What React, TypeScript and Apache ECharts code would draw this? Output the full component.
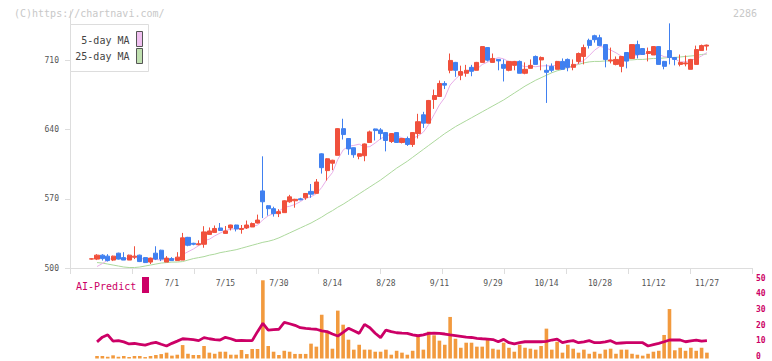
import React, { useEffect, useRef } from "react";
import * as echarts from "echarts";

const MONO = '"DejaVu Sans Mono", monospace';

const dates = [
  "6/10", "6/11", "6/12", "6/13", "6/16", "6/17", "6/18", "6/19", "6/20", "6/23",
  "6/24", "6/25", "6/26", "6/27", "6/30",
  "7/1", "7/2", "7/3", "7/4", "7/7", "7/8", "7/9", "7/10", "7/11", "7/14",
  "7/15", "7/16", "7/17", "7/18", "7/22", "7/23", "7/24", "7/25", "7/28", "7/29",
  "7/30", "7/31",
  "8/1", "8/4", "8/5", "8/6", "8/7", "8/8", "8/12", "8/13", "8/14", "8/15",
  "8/18", "8/19", "8/20", "8/21", "8/22", "8/25", "8/26", "8/27", "8/28", "8/29",
  "9/1", "9/2", "9/3", "9/4", "9/5", "9/8", "9/9", "9/10", "9/11", "9/12",
  "9/16", "9/17", "9/18", "9/19", "9/22", "9/24", "9/25", "9/26", "9/29", "9/30",
  "10/1", "10/2", "10/3", "10/6", "10/7", "10/8", "10/9", "10/10", "10/14", "10/15",
  "10/16", "10/17", "10/20", "10/21", "10/22", "10/23", "10/24", "10/27", "10/28", "10/29",
  "10/30", "10/31",
  "11/4", "11/5", "11/6", "11/7", "11/10", "11/11", "11/12", "11/13", "11/14", "11/17",
  "11/18", "11/19", "11/20", "11/21", "11/25", "11/26", "11/27",
];

const labelDates = ["7/1", "7/15", "7/30", "8/14", "8/28", "9/11", "9/29", "10/14", "10/28", "11/12", "11/27"];
const priceTicks = [500, 570, 640, 710];

const openPrices = [
  509, 509, 513, 512, 508, 515, 510.5, 508, 511, 513,
  510.5, 506, 515, 518, 506, 509.5, 507.5, 508, 531, 525,
  523.5, 524, 534, 536, 540.5, 535, 540.5, 543.5, 539, 540.5,
  541.5, 545.5, 578, 563, 560, 555, 556, 567, 568, 570,
  571, 577.5, 575.5, 615.5, 598.5, 606, 614, 641, 631, 621.7,
  613, 613.6, 627, 640.7, 639.7, 637, 628, 637, 627, 631,
  625, 636, 655, 646.5, 670.5, 673.5, 686.7, 700, 708, 695,
  697, 703, 700, 708, 723, 708, 711, 706, 700, 705,
  709, 697, 702, 714, 710.5, 700, 704, 701, 709, 711,
  703, 709, 714, 730.3, 735, 733, 726, 709.5, 706, 704,
  718, 712, 726, 722, 717, 715.5, 724, 709, 720, 713,
  706, 706.5, 701, 706, 720, 724.5,
];
const closePrices = [
  509.3, 513, 509.5, 507.5, 512, 509, 508, 513, 512, 506.5,
  505.5, 510, 509, 509, 510, 507.5, 511, 530.5, 523, 524,
  524.5, 536.5, 537.5, 540, 538, 537.5, 543.5, 539.5, 540, 543.5,
  545, 548.5, 567, 560, 555, 557, 568, 572, 569.5, 569,
  575.4, 574.7, 587, 601.5, 610.5, 609, 641, 635, 620.5, 614.6,
  615.6, 625.5, 637.7, 639, 636, 629, 636, 627, 631, 625,
  637, 648, 646.5, 669.5, 674.5, 686.7, 685, 710, 700, 698.7,
  700, 699, 708, 724, 710.3, 712, 709.5, 702, 709, 709,
  697, 701, 705, 706, 713, 698, 700, 709, 701, 703,
  706, 717, 723, 725.2, 731, 725, 711, 710.5, 711, 714,
  709.3, 726, 716, 716, 719, 724, 706, 704, 713, 711,
  708, 707.5, 711, 721, 725, 725.5,
];
const lowPrices = [
  508.5, 508, 507.5, 506.5, 507, 508.5, 508, 508, 509, 506,
  505, 504, 508, 507, 506, 507.5, 507.5, 508, 522, 523,
  523, 520.5, 534, 536, 538, 535, 538, 537, 534.7, 539.5,
  541.5, 545, 550.5, 553, 552, 551.5, 556, 566, 561, 568.5,
  569, 571, 575.5, 595.5, 588.5, 599, 614, 630, 614.5, 611.5,
  610, 608, 627, 629, 630, 618, 626.5, 627, 626, 623.5,
  622.5, 631, 641.7, 646.5, 661, 673.5, 681, 697, 693.4, 690,
  693.5, 694, 700, 708, 709, 708, 700, 688.7, 699, 700,
  697, 696, 702, 706, 700, 667, 698, 701, 701, 699,
  700, 706.5, 706, 722, 728, 725, 703, 707, 705, 698,
  702, 712, 712, 716, 709, 715.5, 706, 701, 706, 705,
  704, 704, 701, 706, 720, 720,
];
const highPrices = [
  509.8, 514, 514, 514, 512.5, 515.5, 516, 513.5, 522, 513.5,
  511, 510.5, 522, 518.5, 512, 511, 516, 535.5, 531.5, 525.5,
  528, 542.3, 541, 543, 545.5, 542.5, 543.8, 543.8, 543.5, 548,
  546, 554, 613, 563.5, 562, 559.5, 568.5, 574, 570, 571,
  575.8, 585, 590, 616, 611, 609.5, 641.5, 651, 631.5, 622,
  616, 626, 639, 641, 641.5, 637.5, 636.5, 637.5, 631.5, 633,
  637.5, 656, 658, 670, 680.5, 689.7, 689, 717, 708.5, 704.7,
  705.5, 705.5, 708.5, 724.5, 723.5, 717, 711.5, 711, 709.5, 709.5,
  710, 708, 711, 715, 714, 706, 707, 709.5, 712, 712,
  711, 718, 726, 732, 736, 736, 726.5, 723, 714, 714.5,
  718.5, 726.5, 730, 722.5, 723, 724.5, 724.5, 709.5, 747.5, 713.5,
  716, 715, 711.5, 725, 726, 726,
];

const ma5 = [
  "-", 501.5, 504.5, 508,
  510.3, 510.2, 509.2, 509.9, 510.8, 509.7, 509, 509.4, 508.6, 508,
  508.7, 509.1, 509.3, 513.6, 516.4, 519.2, 522.6, 527.7, 529.1, 532.5,
  535.3, 537.9, 539.3, 539.7, 539.7, 540.8, 542.3, 543.3, 548.8, 552.8,
  555.1, 557.5, 561.4, 562.4, 564.3, 567.1, 570.8, 572.1, 575.1, 581.5,
  589.8, 596.5, 609.8, 619.4, 623.2, 624, 625.3, 622.2, 622.8, 626.5,
  630.8, 633.4, 635.5, 633.4, 631.8, 629.6, 631.2, 633.6, 637.5, 645.2,
  655.1, 665, 672.4, 685.1, 691.2, 696.1, 698.7, 701.5, 701.1, 705.9,
  708.3, 710.7, 712.8, 711.6, 708.6, 708.3, 705.3, 703.6, 704.2, 703.6,
  704.4, 704.6, 704.4, 705.2, 704.2, 702.2, 703.8, 707.2, 710, 714.8,
  720.4, 724.2, 723, 720.5, 717.7, 714.3, 711.2, 714.2, 715.3, 716.3,
  717.3, 720.2, 716.2, 713.8, 713.2, 711.6, 708.4, 708.7, 710.1, 711.7,
  714.5, 718,
];

const ma25 = [
  "-", 505.5, 505, 504, 503, 502, 501, 500.5, 500.5, 501,
  502, 503, 504, 505, 505.5, 506, 506, 506.5, 508, 509.5,
  510.5, 511.5, 513, 514, 515.5, 516.5, 517.5, 518.5, 520, 521.5,
  523, 524.5, 526, 527, 528.5, 530.5, 533, 535.5, 538, 540.5,
  543, 545.5, 548.5, 551.5, 555, 558, 561.5, 564.5, 568, 571.5,
  575, 578.5, 582, 585.5, 589, 593, 597, 601, 604.5, 608,
  612, 616, 620, 624, 628, 632, 636, 639.5, 643, 646,
  649, 652, 655, 658, 661, 664, 667, 670, 673.5, 677,
  680.5, 684, 687, 690, 692.5, 695, 697.5, 699.5, 701, 703,
  704.5, 706, 707.5, 708.5, 709, 709, 709.5, 709.5, 710, 710,
  710.5, 710.5, 711, 711, 711.5, 712, 712, 712.5, 713, 713,
  713.5, 714, 714.5, 715, 716, 716.5,
];

const volume = [
  "-", 1.6, 1.6, 1.1, 2, 1.1, 1.6, 0.9, 1.6, 1.6,
  0.9, 1.6, 2.2, 2.8, 3.7, 1.8, 2.4, 8.5, 3, 2.2,
  2.2, 7.9, 3.7, 3, 4.3, 4.3, 2.4, 2.4, 5.4, 2.8,
  6, 6, 49.5, 7.9, 4.3, 2.2, 4.9, 4.3, 2.9, 2.9,
  2.9, 9.4, 7.5, 27.7, 17, 6.2, 30.3, 21.4, 11.9, 5.6,
  8.7, 5.6, 5.6, 4.3, 4.3, 5.6, 2.4, 4.9, 3.7, 2.4,
  4.9, 13.8, 5.6, 17, 14.7, 11.3, 8.7, 26.3, 12.5, 6.8,
  10, 10, 7.5, 7.5, 11.9, 6.2, 5.6, 10, 6.8, 4.3,
  8.7, 6.8, 6.2, 5.6, 7.9, 18.9, 5.6, 10.6, 3.7, 8.7,
  6.2, 3.7, 5.6, 3, 4.3, 3, 5.6, 6.2, 3, 5.6,
  5.6, 3, 2.4, 1.8, 3, 4.3, 4.9, 14.9, 31.3, 5.2,
  6.8, 4.9, 6.8, 4.9, 6.8, 3.7,
];

const aiPredict = [
  "-", 10.5, 13.5, 15, 11, 11.3, 10.5, 9.2, 9.5, 9,
  8.5, 9.5, 10.2, 9, 7.9, 9.6, 11, 12.5, 12.3, 12,
  11.3, 13.2, 12.5, 12, 11.7, 13.4, 12.5, 11.3, 11.5, 11.3,
  11.3, 17, 22.3, 18, 18.3, 18.5, 22.9, 22, 21, 19.5,
  19, 18.7, 18.5, 17.5, 17, 15.5, 14.2, 16.5, 19.1, 17.5,
  15.9, 21.6, 19.5, 16, 13.2, 18, 17, 16.3, 16, 15.9,
  15, 14.4, 15, 15.9, 16, 15.9, 15.5, 14.9, 14.5, 14,
  13.5, 13.3, 12.8, 12.5, 12.3, 12, 10.6, 12.1, 10, 9.2,
  10, 10.6, 10.6, 10.6, 10.6, 10.8, 11.7, 12.3, 10, 10.8,
  11.3, 10, 10.5, 11.3, 10, 10, 10.5, 11.3, 9.6, 9.8,
  10, 10, 10, 10, 7.9, 8.8, 9.6, 10.6, 11.7, 11.7,
  11.7, 10.6, 11.2, 11.7, 11, 11.3,
];

const UP = "#f0503c";
const DOWN = "#4080f0";

export default function App() {
  const ref = useRef<HTMLDivElement>(null);
  useEffect(() => {
    if (!ref.current) return;
    const chart = echarts.init(ref.current, null, { renderer: "svg" });
    const candles = dates.map((_, i) => [openPrices[i], closePrices[i], lowPrices[i], highPrices[i]]);
    const gridB = { left: 89, right: 62.4 };
    chart.setOption({
      animation: false,
      backgroundColor: "#ffffff",
      textStyle: { fontFamily: MONO },
      grid: [
        { left: 70, right: 20, top: 11, bottom: 93, outerBoundsMode: "none" },
        { ...gridB, top: 11, bottom: 93, outerBoundsMode: "none" },
        { ...gridB, top: 279.5, bottom: 2.5, outerBoundsMode: "none" },
        { ...gridB, top: 278, bottom: 4.5, outerBoundsMode: "none" },
      ],
      xAxis: [
        {
          gridIndex: 0, type: "value", min: 0, max: 11, interval: 1,
          axisLine: { show: true, lineStyle: { color: "#dddddd", width: 1 } },
          axisTick: { show: true, length: 6, lineStyle: { color: "#dddddd" } },
          axisLabel: { show: false }, splitLine: { show: false },
        },
        {
          gridIndex: 1, type: "category", data: dates, boundaryGap: true,
          axisLine: { show: false }, axisTick: { show: false }, splitLine: { show: false },
          axisLabel: {
            interval: (_i: number, v: string) => labelDates.includes(v),
            fontSize: 8, color: "#555555", margin: 11, fontFamily: MONO,
          },
        },
        { gridIndex: 2, type: "category", data: dates, boundaryGap: true, show: false },
        { gridIndex: 3, type: "category", data: dates, boundaryGap: true, show: false },
      ],
      yAxis: [
        {
          gridIndex: 0, type: "value", min: 500, max: 760,
          axisLine: { show: true, lineStyle: { color: "#dddddd", width: 1 } },
          axisTick: { show: true, customValues: priceTicks, length: 5, lineStyle: { color: "#dddddd" } },
          axisLabel: { customValues: priceTicks, fontSize: 8, color: "#555555", margin: 11, fontFamily: MONO },
          splitLine: { show: false },
        },
        { gridIndex: 1, type: "value", min: 500, max: 760, show: false, splitLine: { show: false } },
        { gridIndex: 2, type: "value", min: 0, max: 50, show: false, splitLine: { show: false } },
        {
          gridIndex: 3, type: "value", min: 0, max: 50, interval: 10, position: "right", offset: 42.4,
          axisLine: { show: false }, axisTick: { show: false }, splitLine: { show: false },
          axisLabel: {
            color: "#cc0066", fontSize: 8, fontWeight: "bold", margin: 4, fontFamily: MONO, lineHeight: 8,
          },
        },
      ],
      series: [
        {
          type: "line", name: "25-day MA", xAxisIndex: 1, yAxisIndex: 1, data: ma25,
          symbol: "none", lineStyle: { color: "#acd89c", width: 1 }, z: 1,
        },
        {
          type: "line", name: "5-day MA", xAxisIndex: 1, yAxisIndex: 1, data: ma5,
          symbol: "none", lineStyle: { color: "#e8aee8", width: 1 }, z: 1,
        },
        {
          type: "candlestick", xAxisIndex: 1, yAxisIndex: 1, data: candles, barWidth: 4.6,
          itemStyle: { color: UP, color0: DOWN, borderColor: UP, borderColor0: DOWN, borderWidth: 1 },
          z: 3,
        },
        {
          type: "bar", xAxisIndex: 2, yAxisIndex: 2, data: volume, barWidth: 3.6,
          itemStyle: { color: "#f29a3e" }, z: 2,
        },
        {
          type: "line", xAxisIndex: 2, yAxisIndex: 2, data: aiPredict, symbol: "none",
          lineStyle: { color: "#cc0066", width: 2.8 }, z: 3,
        },
      ],
      graphic: [
        {
          type: "text", x: 14, y: 13, z: 100,
          style: { text: "(C)https://chartnavi.com/", fill: "#c8c8c8", font: `10px ${MONO}`, textAlign: "left", textVerticalAlign: "middle" },
        },
        {
          type: "text", x: 757, y: 13, z: 100,
          style: { text: "2286", fill: "#c8c8c8", font: `10px ${MONO}`, textAlign: "right", textVerticalAlign: "middle" },
        },
        {
          type: "rect", z: 100, shape: { x: 70.5, y: 24.5, width: 78, height: 47 },
          style: { fill: "#ffffff", stroke: "#dddddd", lineWidth: 1 },
        },
        {
          type: "text", x: 129.5, y: 40, z: 101,
          style: { text: "5-day MA", fill: "#444444", font: `10px ${MONO}`, textAlign: "right", textVerticalAlign: "middle" },
        },
        {
          type: "text", x: 129.5, y: 56.5, z: 101,
          style: { text: "25-day MA", fill: "#444444", font: `10px ${MONO}`, textAlign: "right", textVerticalAlign: "middle" },
        },
        {
          type: "rect", z: 101, shape: { x: 136.5, y: 31.5, width: 6, height: 15 },
          style: { fill: "#f0c0f0", stroke: "#555555", lineWidth: 1 },
        },
        {
          type: "rect", z: 101, shape: { x: 136.5, y: 48.5, width: 6, height: 15 },
          style: { fill: "#c0e0b0", stroke: "#555555", lineWidth: 1 },
        },
        {
          type: "text", x: 76, y: 286, z: 100,
          style: { text: "AI-Predict", fill: "#cc0066", font: `10px ${MONO}`, textAlign: "left", textVerticalAlign: "middle" },
        },
        {
          type: "rect", z: 100, shape: { x: 142, y: 277, width: 7, height: 16 },
          style: { fill: "#cc0066" },
        },
      ],
    });
    return () => chart.dispose();
  }, []);
  return <div ref={ref} style={{ position: "fixed", left: 0, top: 0, width: 772, height: 361 }} />;
}
